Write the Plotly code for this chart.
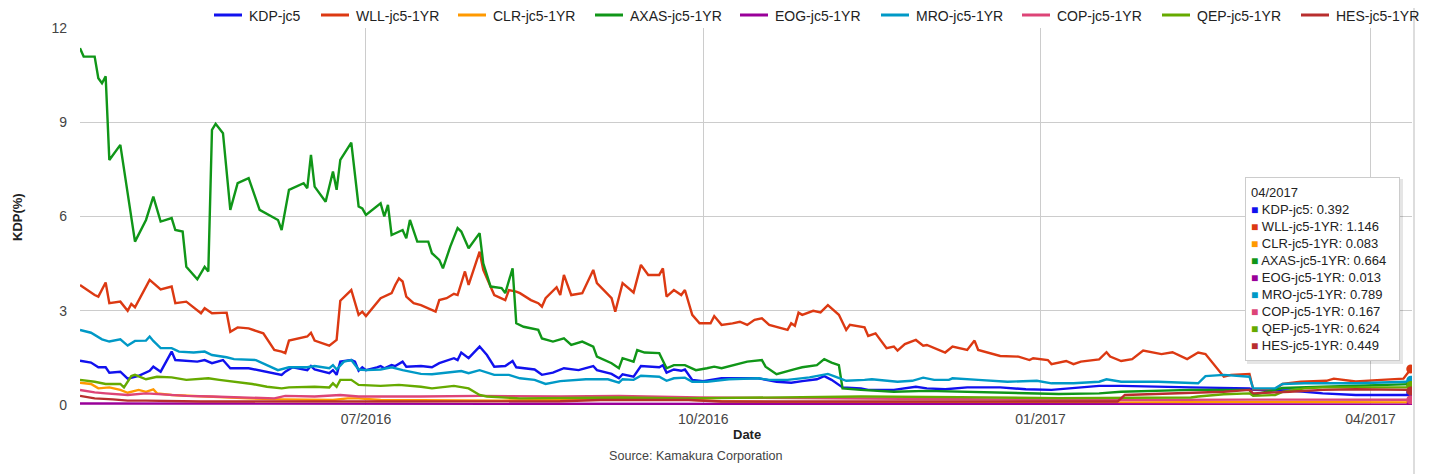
import plotly.graph_objects as go

# ---------------- data ----------------
series_names = ["KDP-jc5", "WLL-jc5-1YR", "CLR-jc5-1YR", "AXAS-jc5-1YR", "EOG-jc5-1YR",
                "MRO-jc5-1YR", "COP-jc5-1YR", "QEP-jc5-1YR", "HES-jc5-1YR"]
series_colors = ["#1111ee", "#dc3912", "#ff9900", "#109618", "#990099",
                 "#0099c6", "#dd4477", "#66aa00", "#b82e2e"]

kdp_dates = ["2016-04-14","2016-04-17","2016-04-19","2016-04-21","2016-04-22","2016-04-25","2016-04-27","2016-04-30",
             "2016-05-03","2016-05-04","2016-05-06","2016-05-09","2016-05-10","2016-05-16","2016-05-18","2016-05-20",
             "2016-05-23","2016-05-25","2016-05-30","2016-06-04","2016-06-08","2016-06-09","2016-06-11","2016-06-15",
             "2016-06-16","2016-06-17","2016-06-21","2016-06-22","2016-06-23","2016-06-24","2016-06-27","2016-06-28",
             "2016-06-29","2016-06-30","2016-07-01","2016-07-04","2016-07-05","2016-07-06","2016-07-08","2016-07-09",
             "2016-07-11","2016-07-12","2016-07-16","2016-07-19","2016-07-21","2016-07-25","2016-07-26","2016-07-27",
             "2016-07-29","2016-08-01","2016-08-03","2016-08-05","2016-08-08","2016-08-10","2016-08-11","2016-08-16",
             "2016-08-18","2016-08-21","2016-08-24","2016-08-28","2016-08-30","2016-09-01","2016-09-02","2016-09-06",
             "2016-09-08","2016-09-09","2016-09-12","2016-09-14","2016-09-19","2016-09-20","2016-09-21","2016-09-23",
             "2016-09-25","2016-09-26","2016-09-28","2016-10-01","2016-10-06","2016-10-16","2016-10-21","2016-10-25",
             "2016-10-28","2016-11-01","2016-11-03","2016-11-05","2016-11-08","2016-11-13","2016-11-15","2016-11-22",
             "2016-11-28","2016-12-01","2016-12-06","2016-12-12","2016-12-21","2016-12-28","2017-01-04","2017-01-12",
             "2017-01-17","2017-01-23","2017-02-02","2017-02-11","2017-02-27","2017-02-28","2017-03-10","2017-03-19",
             "2017-03-28","2017-04-11","2017-04-12"]
kdp_values = [1.41,1.35,1.20,1.20,1.03,1.06,0.84,0.93,
              1.09,1.22,1.06,1.70,1.43,1.38,1.43,1.33,
              1.43,1.17,1.17,1.06,0.96,1.06,1.20,1.11,
              1.24,1.13,1.01,1.11,0.96,1.38,1.43,1.38,
              1.09,1.20,1.11,1.20,1.24,1.17,1.27,1.24,
              1.38,1.22,1.24,1.20,1.33,1.49,1.43,1.67,
              1.49,1.86,1.59,1.22,1.24,1.40,1.20,1.13,
              0.96,1.03,1.17,1.11,1.17,1.24,1.11,0.99,
              0.85,0.98,0.90,1.24,1.20,1.27,1.03,1.13,
              1.09,1.13,0.80,0.76,0.85,0.85,0.74,0.71,
              0.76,0.82,0.92,0.80,0.56,0.53,0.48,0.48,
              0.58,0.53,0.50,0.56,0.56,0.50,0.48,0.56,
              0.61,0.61,0.58,0.56,0.53,0.48,0.46,0.37,
              0.32,0.32,0.392]

wll_dates = ["2016-04-14","2016-04-18","2016-04-19","2016-04-21","2016-04-22","2016-04-25","2016-04-27","2016-04-28",
             "2016-04-29","2016-05-03","2016-05-06","2016-05-09","2016-05-10","2016-05-13","2016-05-17","2016-05-18",
             "2016-05-20","2016-05-24","2016-05-25","2016-05-27","2016-05-30","2016-06-03","2016-06-06","2016-06-08",
             "2016-06-09","2016-06-10","2016-06-15","2016-06-16","2016-06-17","2016-06-21","2016-06-23","2016-06-24",
             "2016-06-27","2016-06-29","2016-06-30","2016-07-01","2016-07-05","2016-07-08","2016-07-09","2016-07-10",
             "2016-07-11","2016-07-12","2016-07-14","2016-07-16","2016-07-20","2016-07-21","2016-07-23","2016-07-25",
             "2016-07-26","2016-07-28","2016-07-29","2016-08-01","2016-08-02","2016-08-04","2016-08-05","2016-08-08",
             "2016-08-09","2016-08-11","2016-08-12","2016-08-15","2016-08-17","2016-08-18","2016-08-19","2016-08-22",
             "2016-08-23","2016-08-24","2016-08-26","2016-08-29","2016-09-01","2016-09-02","2016-09-06","2016-09-07",
             "2016-09-09","2016-09-12","2016-09-14","2016-09-16","2016-09-19","2016-09-20","2016-09-21","2016-09-23",
             "2016-09-25","2016-09-26","2016-09-28","2016-09-30","2016-10-03","2016-10-04","2016-10-06","2016-10-09",
             "2016-10-11","2016-10-13","2016-10-15","2016-10-17","2016-10-19","2016-10-24","2016-10-25","2016-10-26",
             "2016-10-27","2016-10-28","2016-10-31","2016-11-02","2016-11-04","2016-11-07","2016-11-09","2016-11-10",
             "2016-11-14","2016-11-15","2016-11-17","2016-11-20","2016-11-22","2016-11-23","2016-11-25","2016-11-28",
             "2016-11-30","2016-12-01","2016-12-06","2016-12-08","2016-12-12","2016-12-14","2016-12-15","2016-12-21",
             "2016-12-26","2016-12-29","2016-12-30","2017-01-03","2017-01-04","2017-01-08","2017-01-10","2017-01-12",
             "2017-01-17","2017-01-19","2017-01-20","2017-01-23","2017-01-26","2017-01-29","2017-02-03","2017-02-06",
             "2017-02-10","2017-02-13","2017-02-15","2017-02-20","2017-02-22","2017-02-27","2017-02-28","2017-03-06",
             "2017-03-08","2017-03-13","2017-03-20","2017-03-22","2017-03-28","2017-04-04","2017-04-10","2017-04-12"]
wll_values = [3.82,3.50,3.45,3.90,3.24,3.29,3.00,3.22,
              3.11,3.98,3.68,3.77,3.24,3.29,2.92,3.08,
              2.92,2.94,2.33,2.47,2.44,2.28,1.75,1.70,
              1.65,2.05,2.18,2.30,2.05,1.89,2.07,3.32,
              3.66,2.87,2.97,2.83,3.40,3.56,3.82,4.03,
              3.93,3.45,3.24,3.18,2.97,3.34,3.40,3.54,
              3.50,4.25,3.82,4.88,4.30,3.77,3.50,3.34,
              3.66,3.61,3.56,3.34,3.24,3.13,3.40,3.75,
              3.50,4.14,3.50,3.56,4.30,3.88,3.40,2.97,
              3.88,3.58,4.46,4.14,4.14,4.35,3.45,3.66,
              3.50,3.66,2.87,2.60,2.60,2.83,2.55,2.60,
              2.65,2.55,2.71,2.76,2.55,2.39,2.60,2.52,
              2.94,2.87,3.00,2.95,3.18,2.87,2.39,2.55,
              2.47,2.20,2.28,1.81,1.86,1.73,1.94,2.07,
              1.89,1.91,1.67,1.86,1.75,2.05,1.75,1.56,
              1.54,1.43,1.49,1.43,1.30,1.40,1.30,1.38,
              1.45,1.68,1.54,1.40,1.46,1.73,1.62,1.68,
              1.46,1.67,1.62,0.90,0.96,0.99,0.50,0.50,
              0.67,0.74,0.77,0.84,0.75,0.80,0.84,1.146]

clr_dates = ["2016-04-14","2016-04-17","2016-04-19","2016-04-22","2016-04-25","2016-04-27","2016-04-30","2016-05-02",
             "2016-05-04","2016-05-05","2016-05-09","2016-05-14","2016-05-20","2016-05-30","2016-06-08","2016-06-17",
             "2016-06-22","2016-06-26","2016-06-29","2016-07-05","2016-07-16","2016-08-07","2016-09-03","2016-09-25",
             "2016-10-06","2016-10-27","2016-11-24","2016-12-21","2017-01-17","2017-02-22","2017-04-12"]
clr_values = [0.71,0.67,0.53,0.56,0.48,0.39,0.48,0.42,
              0.50,0.37,0.32,0.29,0.27,0.21,0.18,0.16,
              0.16,0.21,0.21,0.16,0.16,0.14,0.18,0.18,
              0.12,0.08,0.06,0.06,0.07,0.10,0.083]

axas_dates = ["2016-04-14","2016-04-15","2016-04-18","2016-04-19","2016-04-20","2016-04-21","2016-04-22","2016-04-25",
              "2016-04-29","2016-05-02","2016-05-04","2016-05-06","2016-05-09","2016-05-10","2016-05-12","2016-05-13",
              "2016-05-16","2016-05-18","2016-05-19","2016-05-20","2016-05-21","2016-05-23","2016-05-25","2016-05-27",
              "2016-05-30","2016-06-02","2016-06-07","2016-06-08","2016-06-10","2016-06-14","2016-06-15","2016-06-16",
              "2016-06-17","2016-06-20","2016-06-22","2016-06-23","2016-06-24","2016-06-27","2016-06-29","2016-06-30",
              "2016-07-01","2016-07-05","2016-07-06","2016-07-07","2016-07-08","2016-07-11","2016-07-12","2016-07-13",
              "2016-07-15","2016-07-18","2016-07-19","2016-07-21","2016-07-22","2016-07-24","2016-07-26","2016-07-27",
              "2016-07-29","2016-08-01","2016-08-02","2016-08-04","2016-08-07","2016-08-08","2016-08-10","2016-08-11",
              "2016-08-13","2016-08-17","2016-08-18","2016-08-21","2016-08-24","2016-08-26","2016-08-29","2016-09-01",
              "2016-09-02","2016-09-06","2016-09-08","2016-09-09","2016-09-12","2016-09-13","2016-09-15","2016-09-19",
              "2016-09-21","2016-09-23","2016-09-26","2016-09-29","2016-10-02","2016-10-04","2016-10-06","2016-10-09",
              "2016-10-13","2016-10-17","2016-10-18","2016-10-21","2016-10-25","2016-10-26","2016-10-28","2016-11-01",
              "2016-11-03","2016-11-05","2016-11-07","2016-11-08","2016-11-13","2016-11-22","2016-12-01","2016-12-10",
              "2016-12-19","2016-12-28","2017-01-06","2017-01-17","2017-01-23","2017-02-11","2017-02-27","2017-02-28",
              "2017-03-08","2017-03-19","2017-03-28","2017-04-12"]
axas_values = [11.36,11.09,11.09,10.40,10.24,10.46,7.80,8.28,
               5.20,5.89,6.63,5.84,5.95,5.57,5.52,4.40,
               4.00,4.40,4.25,8.76,8.95,8.65,6.21,7.06,
               7.22,6.21,5.89,5.57,6.85,7.06,6.90,7.96,
               6.95,6.47,7.43,6.85,7.80,8.35,6.32,6.26,
               6.05,6.42,6.00,6.37,5.41,5.57,5.31,5.89,
               5.20,5.20,4.83,4.62,4.35,5.04,5.63,5.52,
               4.99,5.47,4.51,3.77,3.72,3.56,4.35,2.60,
               2.49,2.39,2.12,2.02,2.12,1.91,2.02,1.86,
               1.54,1.33,1.17,1.49,1.38,1.75,1.67,1.65,
               1.17,1.27,1.27,1.11,1.17,1.22,1.17,1.27,
               1.38,1.43,1.22,0.98,1.09,1.14,1.20,1.27,
               1.46,1.35,1.27,0.53,0.48,0.42,0.45,0.42,
               0.39,0.37,0.35,0.37,0.42,0.48,0.48,0.32,
               0.54,0.58,0.61,0.664]

eog_dates = ["2016-04-14","2016-06-13","2016-09-03","2016-11-24","2017-02-13","2017-04-12"]
eog_values = [0.05,0.04,0.04,0.03,0.02,0.013]

mro_dates = ["2016-04-14","2016-04-17","2016-04-20","2016-04-22","2016-04-25","2016-04-27","2016-04-29","2016-05-02",
             "2016-05-03","2016-05-04","2016-05-06","2016-05-09","2016-05-11","2016-05-15","2016-05-18","2016-05-20",
             "2016-05-24","2016-05-26","2016-06-01","2016-06-04","2016-06-07","2016-06-10","2016-06-15","2016-06-17",
             "2016-06-21","2016-06-22","2016-06-23","2016-06-25","2016-06-27","2016-06-29","2016-07-01","2016-07-05",
             "2016-07-08","2016-07-11","2016-07-16","2016-07-19","2016-07-25","2016-07-27","2016-07-29","2016-08-01",
             "2016-08-05","2016-08-09","2016-08-12","2016-08-16","2016-08-19","2016-08-23","2016-08-30","2016-09-05",
             "2016-09-08","2016-09-09","2016-09-12","2016-09-14","2016-09-19","2016-09-21","2016-09-23","2016-09-26",
             "2016-09-28","2016-10-02","2016-10-08","2016-10-16","2016-10-19","2016-10-24","2016-10-30","2016-11-04",
             "2016-11-06","2016-11-09","2016-11-14","2016-11-16","2016-11-23","2016-11-27","2016-11-30","2016-12-03",
             "2016-12-07","2016-12-08","2016-12-15","2016-12-23","2016-12-31","2017-01-04","2017-01-10","2017-01-17",
             "2017-01-19","2017-01-23","2017-02-02","2017-02-13","2017-02-15","2017-02-20","2017-02-27","2017-02-28",
             "2017-03-06","2017-03-08","2017-03-14","2017-03-28","2017-04-11","2017-04-12"]
mro_values = [2.39,2.30,2.09,2.02,2.09,1.89,2.04,2.05,
              2.18,2.04,1.81,1.81,1.70,1.67,1.70,1.59,
              1.52,1.46,1.43,1.27,1.11,1.20,1.20,1.24,
              1.17,1.27,1.13,1.38,1.43,1.13,1.11,1.13,
              1.20,1.11,0.99,0.98,1.05,1.08,1.01,1.11,
              0.96,0.96,0.85,0.80,0.67,0.76,0.82,0.82,
              0.71,0.82,0.80,0.93,0.90,0.77,0.85,0.87,
              0.74,0.74,0.82,0.85,0.80,0.80,0.88,0.99,
              0.90,0.77,0.80,0.82,0.74,0.77,0.87,0.80,
              0.80,0.85,0.80,0.74,0.77,0.69,0.69,0.74,
              0.82,0.74,0.74,0.69,0.92,0.96,0.90,0.53,
              0.53,0.67,0.69,0.69,0.74,0.789]

cop_dates = ["2016-04-14","2016-04-18","2016-04-21","2016-04-27","2016-05-02","2016-05-08","2016-05-13","2016-05-20",
             "2016-05-30","2016-06-06","2016-06-09","2016-06-17","2016-06-24","2016-06-29","2016-07-16","2016-08-01",
             "2016-08-23","2016-09-08","2016-09-30","2016-10-27","2016-11-24","2016-12-21","2017-01-22","2017-02-27",
             "2017-04-12"]
cop_values = [0.48,0.40,0.37,0.32,0.37,0.32,0.29,0.27,
              0.24,0.21,0.29,0.27,0.32,0.27,0.27,0.29,
              0.27,0.29,0.24,0.21,0.20,0.18,0.16,0.17,
              0.167]

qep_dates = ["2016-04-14","2016-04-18","2016-04-21","2016-04-25","2016-04-26","2016-04-28","2016-04-29","2016-05-02",
             "2016-05-05","2016-05-09","2016-05-13","2016-05-19","2016-05-22","2016-05-26","2016-05-31","2016-06-04",
             "2016-06-08","2016-06-10","2016-06-17","2016-06-21","2016-06-22","2016-06-23","2016-06-24","2016-06-27",
             "2016-06-29","2016-07-05","2016-07-10","2016-07-16","2016-07-19","2016-07-25","2016-07-29","2016-08-01",
             "2016-08-03","2016-08-12","2016-09-08","2016-09-26","2016-10-16","2016-11-13","2016-12-10","2017-01-06",
             "2017-02-11","2017-02-13","2017-02-20","2017-02-27","2017-02-28","2017-03-06","2017-03-08","2017-03-14",
             "2017-03-19","2017-04-11","2017-04-12"]
qep_values = [0.80,0.74,0.67,0.67,0.56,0.92,0.96,0.82,
              0.90,0.88,0.80,0.85,0.80,0.74,0.67,0.58,
              0.53,0.56,0.58,0.56,0.69,0.58,0.80,0.80,
              0.64,0.61,0.64,0.58,0.53,0.61,0.53,0.32,
              0.27,0.21,0.24,0.21,0.24,0.27,0.25,0.22,
              0.24,0.27,0.34,0.37,0.29,0.32,0.42,0.53,
              0.56,0.56,0.624]

hes_dates = ["2016-04-14","2016-04-18","2016-04-23","2016-04-27","2016-05-02","2016-05-17","2016-07-10","2016-08-23",
             "2016-09-03","2016-09-27","2016-10-06","2016-11-24","2016-12-21","2017-01-22","2017-01-24","2017-02-02",
             "2017-02-11","2017-02-20","2017-02-27","2017-02-28","2017-03-10","2017-03-19","2017-03-28","2017-04-11",
             "2017-04-12"]
hes_values = [0.29,0.21,0.18,0.14,0.14,0.11,0.11,0.12,
              0.16,0.16,0.11,0.10,0.10,0.11,0.32,0.35,
              0.39,0.42,0.48,0.37,0.42,0.48,0.50,0.48,
              0.449]

series_dates = [kdp_dates, wll_dates, clr_dates, axas_dates, eog_dates,
                mro_dates, cop_dates, qep_dates, hes_dates]
series_values = [kdp_values, wll_values, clr_values, axas_values, eog_values,
                 mro_values, cop_values, qep_values, hes_values]

y_ticks = [0, 3, 6, 9, 12]
x_ticks = ["2016-07-01", "2016-10-01", "2017-01-01", "2017-04-01"]
x_tick_labels = ["07/2016", "10/2016", "01/2017", "04/2017"]
tooltip_title = "04/2017"

# ---------------- layout helpers ----------------
# The page body has an 8px margin, so the figure is drawn 8px right/down.
OFF = 8
W, H = 1429 - OFF, 474 - OFF
# plot area in screen pixels
SL, SR, ST, SB = 80, 1412, 28, 405
PL, PR, PT, PB = SL - OFF, SR - OFF, ST - OFF, SB - OFF

def px(x):  # screen x -> paper
    return (x - SL) / (SR - SL)
def py(y):  # screen y -> paper
    return (SB - y) / (SB - ST)

FONT = "Liberation Sans, Arial, sans-serif"

fig = go.Figure()
for name, color, d, v in zip(series_names, series_colors, series_dates, series_values):
    fig.add_trace(go.Scatter(x=d, y=v, mode="lines", name=name,
                             line=dict(color=color, width=2.4), showlegend=False,
                             hoverinfo="skip"))
for name, color, d, v in zip(series_names, series_colors, series_dates, series_values):
    fig.add_trace(go.Scatter(x=[d[-1]], y=[v[-1]], mode="markers", name=name,
                             marker=dict(color=color, size=9), showlegend=False,
                             hoverinfo="skip"))

shapes = []
annotations = []

# manual legend
legend_starts = [214, 321, 458, 595, 740, 881, 1022, 1162, 1301]
for name, color, lx in zip(series_names, series_colors, legend_starts):
    shapes.append(dict(type="line", xref="paper", yref="paper",
                       x0=px(lx), x1=px(lx + 28), y0=py(15), y1=py(15),
                       line=dict(color=color, width=3)))
    annotations.append(dict(text=name, xref="paper", yref="paper",
                            x=px(lx + 33), y=py(15.5), xanchor="left", yanchor="middle",
                            showarrow=False, font=dict(size=14, color="#222", family=FONT)))

# tooltip
rows = ["<span style='color:%s;font-size:12px'>&#9632;</span> %s: %.3f" % (c, n, v[-1])
        for n, c, v in zip(series_names, series_colors, series_values)]
tip_text = tooltip_title + "<br>" + "<br>".join(rows)
shapes.append(dict(type="rect", xref="paper", yref="paper", layer="above",
                   x0=px(1247), x1=px(1403), y0=py(364), y1=py(179),
                   fillcolor="rgba(0,0,0,0.10)", line=dict(width=0)))
annotations.append(dict(text=tip_text, xref="paper", yref="paper",
                        x=px(1245), y=py(177), xanchor="left", yanchor="top",
                        align="left", valign="middle", showarrow=False,
                        width=143, height=172, borderpad=5,
                        bgcolor="white", bordercolor="#cccccc", borderwidth=1,
                        font=dict(size=13, color="#222", family=FONT)))

# right container edge
shapes.append(dict(type="line", xref="paper", yref="paper",
                   x0=px(1414), x1=px(1414), y0=py(474), y1=py(OFF),
                   line=dict(color="#bbbbbb", width=1)))

# titles
annotations.append(dict(text="<b>KDP(%)</b>", xref="paper", yref="paper",
                        x=px(17), y=py(217), textangle=-90, showarrow=False,
                        xanchor="center", yanchor="middle",
                        font=dict(size=13, color="#222", family=FONT)))
annotations.append(dict(text="<b>Date</b>", xref="paper", yref="paper",
                        x=px(747), y=py(434), showarrow=False,
                        xanchor="center", yanchor="middle",
                        font=dict(size=13, color="#222", family=FONT)))
annotations.append(dict(text="Source: Kamakura Corporation", xref="paper", yref="paper",
                        x=px(696), y=py(456), showarrow=False,
                        xanchor="center", yanchor="middle",
                        font=dict(size=12.6, color="#444", family=FONT)))

fig.update_layout(
    width=W, height=H,
    margin=dict(l=PL, r=W - PR, t=PT, b=H - PB, pad=0),
    paper_bgcolor="white", plot_bgcolor="white",
    font=dict(family=FONT, color="#444", size=14),
    hovermode=False,
    shapes=shapes, annotations=annotations,
    xaxis=dict(type="date", range=["2016-04-14", "2017-04-12 08:00"],
               tickvals=x_ticks, ticktext=x_tick_labels,
               showgrid=True, gridcolor="#cccccc", gridwidth=1,
               showline=False, zeroline=False, ticks="",
               ticklabelstandoff=4,
               tickfont=dict(size=14, color="#444", family=FONT)),
    yaxis=dict(range=[0, 12], tickvals=y_ticks,
               showgrid=True, gridcolor="#cccccc", gridwidth=1,
               showline=False, zeroline=False, ticks="",
               ticklabelstandoff=12,
               tickfont=dict(size=14, color="#444", family=FONT)),
)

fig.write_html("out.html")
